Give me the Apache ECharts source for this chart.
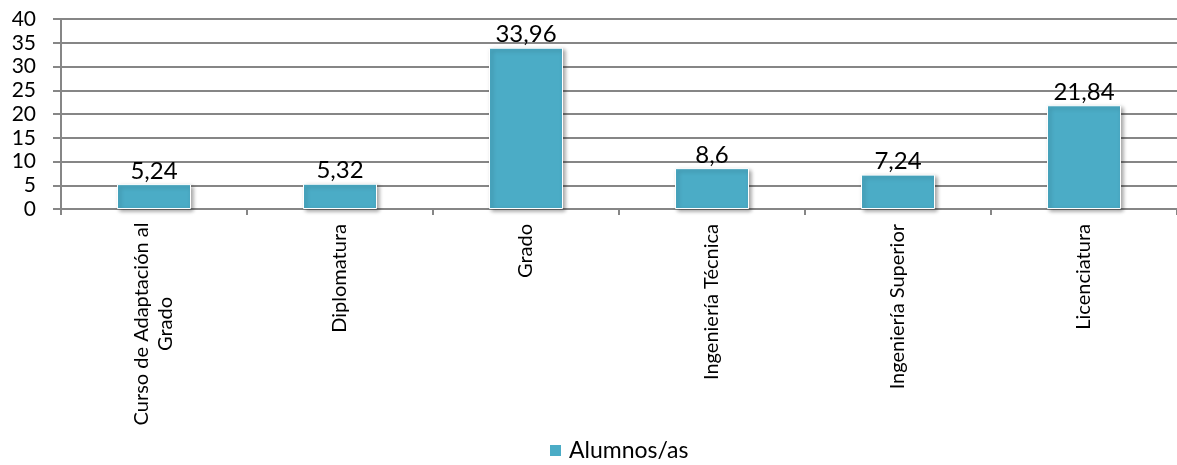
<!DOCTYPE html>
<html><head><meta charset="utf-8">
<script src="https://cdn.jsdelivr.net/npm/echarts@6/dist/echarts.min.js"></script>
<style>html,body{margin:0;padding:0;background:#fff}#c{width:1177px;height:465px}</style>
</head><body><div id="c"></div>
<script>
const categories = ['Curso de Adaptación al\nGrado', 'Diplomatura', 'Grado', 'Ingeniería Técnica', 'Ingeniería Superior', 'Licenciatura'];
const values = [5.24, 5.32, 33.96, 8.6, 7.24, 21.84];
const seriesName = 'Alumnos/as';
const yTicks = [0, 5, 10, 15, 20, 25, 30, 35, 40];

const FONT = 'Lato';
const chart = echarts.init(document.getElementById('c'), null, {renderer: 'canvas'});
chart.setOption({
  animation: false,
  textStyle: {fontFamily: FONT},
  grid: {left: 61, right: 0, top: 19, bottom: 256, containLabel: false},
  legend: {
    top: 439, left: 548, padding: 0,
    data: [seriesName],
    icon: 'rect', itemWidth: 13, itemHeight: 13, itemGap: 6,
    textStyle: {fontSize: 23, color: '#000', fontFamily: FONT, padding: [0, 0, 0, 2]}
  },
  xAxis: {
    type: 'category', data: categories,
    axisLine: {lineStyle: {color: '#868686', width: 2}},
    axisTick: {show: true, length: 6, lineStyle: {color: '#868686', width: 2}},
    axisLabel: {
      rotate: 90, margin: 15, interval: 0, color: '#000', fontSize: 20, fontFamily: FONT,
      formatter: function (v) {
        const parts = v.split('\n');
        if (parts.length === 1) return v;
        return parts.map(s => '{m|' + s + '}').join('\n');
      },
      rich: {m: {fontSize: 20, fontFamily: FONT, color: '#000', align: 'center', width: 200, lineHeight: 24}}
    }
  },
  yAxis: {
    type: 'value', min: 0, max: 40, interval: 5,
    axisLine: {show: true, lineStyle: {color: '#868686', width: 2}},
    axisTick: {show: true, length: 8, lineStyle: {color: '#868686', width: 2}},
    splitLine: {lineStyle: {color: '#868686', width: 2}},
    axisLabel: {
      margin: 25, color: '#000', fontSize: 21, fontFamily: FONT,
      formatter: function (v) { return yTicks.indexOf(v) >= 0 ? String(v) : ''; }
    }
  },
  series: [{
    name: seriesName, type: 'bar', data: values, barWidth: 74,
    itemStyle: {color: '#4BACC6', borderColor: '#fff', borderWidth: 1,
      shadowColor: 'rgba(0,0,0,0.35)', shadowBlur: 4, shadowOffsetX: 2, shadowOffsetY: 2},
    label: {show: true, position: 'top', distance: 1, color: '#000', fontSize: 24, fontFamily: FONT,
      formatter: p => String(p.value).replace('.', ',')}
  }]
});
</script></body></html>
